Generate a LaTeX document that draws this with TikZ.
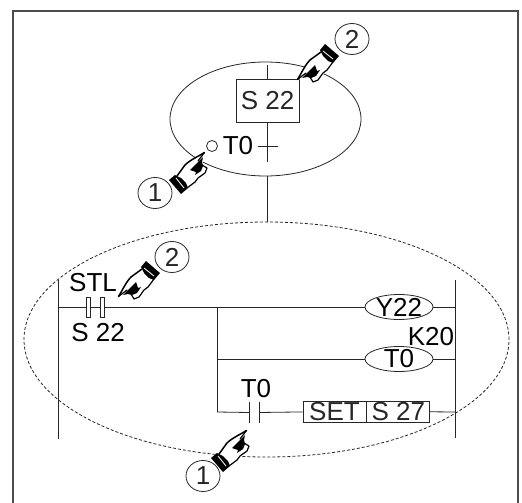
\documentclass[tikz,border=0pt]{standalone}
\usepackage{fontspec}
\setmainfont{Liberation Sans}
\usetikzlibrary{positioning}
\usetikzlibrary{shapes.geometric}

\tikzset{
  hand/.pic={
    \fill[white] (0,0) -- (13,-20) -- (23,-28) -- (38,-18) -- (30,-10) -- (21,0) -- (16,2) -- (13,-3) -- cycle;
    \draw[black, line width=1.5pt, line join=round, line cap=round] (0.5,-0.5) .. controls (4,-6) and (8,-15) .. (13,-20) -- (24,-28);
    \draw[black, line width=1.2pt, line join=round, line cap=round] (0.5,-0.5) -- (9,-7);
    \draw[black, line width=1.2pt, line join=round] (36,-18) -- (30,-10) -- (26,-7) -- (21,0) -- (16,2) -- (13,-3);
    \fill[black] (5,-2) -- (12,-9) -- (18,-15) -- (20,-9) -- (23,-10) -- (19,-4) -- (14,-2) -- (10,-3) -- cycle;
    \fill[black] (23,-30) -- (28,-36) -- (42,-24) -- (36,-17) -- (31,-19) -- (26,-24) -- cycle;
    \draw[white, line width=0.8pt] (26,-29) -- (36,-21);
  },
  flipped/.style={cm={0,-1,-1,0,(0,0)}}
}

\begin{document}
\begin{tikzpicture}[
      , x=1pt, y=-1pt
      , rung/.style={color=black!85, line width=0.8pt}
      , frameline/.style={color=black!70, line width=1.8pt}
      , lbl/.style={font=\fontsize{26}{26}\selectfont, inner sep=0pt, text=black}
      , num/.style={lbl, ellipse, draw, rung, minimum width=34pt, minimum height=31pt}
      , coil/.style={ellipse, draw, rung, inner sep=0pt, minimum width=68pt, minimum height=25pt}
      , bar/.style={draw, rung, fill=white, minimum width=4pt, minimum height=20pt, inner sep=0pt}
      , tick/.style={inner sep=0pt, minimum width=0pt, minimum height=21pt}
      ]

      \useasboundingbox (0,0) rectangle (522,503);

      % frame, open at the bottom
      \coordinate (frame-bl) at (13,503);
      \coordinate (frame-tl) at (13,11);
      \coordinate (frame-tr) at (518,11);
      \coordinate (frame-br) at (518,503);
      \draw[frameline] (frame-bl) -- (frame-tl) -- (frame-tr) -- (frame-br);

      % the step
      \node[ellipse, draw, rung, minimum width=191pt, minimum height=114pt, inner sep=0pt] (oval) at (265.5,119) {};
      \node[lbl, draw, rung, minimum width=63pt, minimum height=43pt] (step) at (267.5,100.5) {S 22};
      \coordinate (step-in) at (267.5,65);
      \coordinate (trans) at (267.5,146);
      \coordinate (trans-end) at (267.5,162);
      \coordinate (trans-l) at (258,146);
      \coordinate (trans-r) at (278,146);
      \node[lbl] (trans-name) at (238,146) {T0};
      \node[circle, draw, rung, minimum size=11pt, inner sep=0pt] (dot) at (212,146) {};
      \coordinate (link-up) at (267.5,176);
      \coordinate (link-down) at (267.5,222);

      \draw[rung] (step-in) -- (step);
      \draw[rung] (step) -- (trans-end);
      \draw[rung] (trans-l) -- (trans-r);
      \draw[rung] (link-up) -- (link-down);

      % ladder
      \node[ellipse, draw, rung, densely dashed, minimum width=485pt, minimum height=235pt, inner sep=0pt] (cloud) at (266.5,339.5) {};
      \coordinate (rail-l-top) at (58,280);
      \coordinate (rail-l-end) at (58,439);
      \coordinate (rail-r-top) at (455,280);
      \coordinate (rail-r-end) at (455,438);
      \coordinate (rung1-l) at (58,307);
      \coordinate (rung1-r) at (455,307);
      \coordinate (branch) at (217,307);
      \coordinate (rung2-l) at (217,359);
      \coordinate (rung2-r) at (455,359);
      \coordinate (rung3-l) at (217,412);
      \coordinate (rung3-r) at (455,412);

      \draw[rung] (rail-l-top) -- (rail-l-end);
      \draw[rung] (rail-r-top) -- (rail-r-end);
      \draw[rung] (rung1-l) -- (rung1-r);
      \draw[rung] (branch) -- (rung3-l);

      \node[bar] (stl-a) at (88,307) {};
      \node[bar] (stl-b) at (102,307) {};
      \node[lbl] (stl-name) at (93,283) {STL};
      \node[lbl] (stl-addr) at (98,333) {S 22};

      \node[coil, fill=white] (y22) at (399,307) {};
      \node[lbl] (y22-name) at (399,307) {Y22};
      \node[coil] (t0-coil) at (399,359) {};
      \node[lbl] (t0-coil-name) at (399,359) {T0};
      \node[lbl] (k20) at (431,337) {K20};
      \draw[rung] (rung2-l) -- (t0-coil);
      \draw[rung] (t0-coil) -- (rung2-r);

      \node[tick] (t0-a) at (249,412.5) {};
      \node[tick] (t0-b) at (259,412.5) {};
      \draw[rung] (t0-a.north) -- (t0-a.south);
      \draw[rung] (t0-b.north) -- (t0-b.south);
      \node[lbl] (t0-name) at (256,389) {T0};

      \node[lbl, draw, rung, minimum width=63pt, minimum height=21pt] (set) at (334.5,411.5) {SET};
      \node[lbl, draw, rung, minimum width=63pt, minimum height=21pt, right = 0pt of set] (addr) {S 27};
      \draw[rung] (rung3-l) -- (t0-a);
      \draw[rung] (t0-b) -- (set);
      \draw[rung] (addr) -- (rung3-r);

      % pointers
      \pic at (297,80) {hand};
      \pic[flipped] at (205,152) {hand};
      \pic at (118,297) {hand};
      \pic[flipped] at (247,430) {hand};

      \node[num] (two-top) at (352,39) {2};
      \node[num] (one-top) at (155,193) {1};
      \node[num] (two-low) at (172,257) {2};
      \node[num] (one-low) at (203,476) {1};
    \end{tikzpicture}
\end{document}
